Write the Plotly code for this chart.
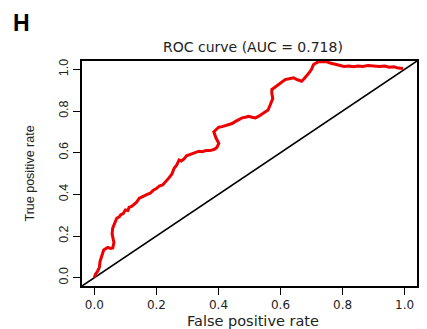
import plotly.graph_objects as go

# ROC curve points (false positive rate, true positive rate)
fpr = [0.000, 0.003, 0.010, 0.016, 0.018, 0.025, 0.030, 0.037, 0.043, 0.052, 0.059, 0.063,
       0.057, 0.059, 0.066, 0.072, 0.080, 0.085, 0.093, 0.100, 0.108, 0.112, 0.120, 0.128,
       0.136, 0.144, 0.150, 0.160, 0.170, 0.180, 0.190, 0.200, 0.209, 0.220, 0.230, 0.241,
       0.250, 0.257, 0.265, 0.273, 0.280, 0.289, 0.297, 0.305, 0.315, 0.326, 0.337, 0.347,
       0.360, 0.372, 0.385, 0.395, 0.401, 0.392, 0.385, 0.392, 0.401, 0.412, 0.423, 0.433,
       0.444, 0.455, 0.465, 0.476, 0.487, 0.497, 0.508, 0.519, 0.530, 0.540, 0.551, 0.560,
       0.567, 0.575, 0.572, 0.572, 0.583, 0.594, 0.605, 0.615, 0.628, 0.642, 0.655, 0.668,
       0.676, 0.684, 0.693, 0.700, 0.706, 0.714, 0.722, 0.735, 0.749, 0.760, 0.775, 0.790,
       0.805, 0.820, 0.835, 0.850, 0.865, 0.882, 0.900, 0.918, 0.936, 0.950, 0.965, 0.980,
       0.995]
tpr = [0.000, 0.016, 0.030, 0.050, 0.077, 0.105, 0.133, 0.140, 0.145, 0.140, 0.142, 0.168,
       0.210, 0.238, 0.262, 0.285, 0.292, 0.302, 0.308, 0.325, 0.322, 0.338, 0.342, 0.352,
       0.362, 0.380, 0.385, 0.390, 0.400, 0.405, 0.420, 0.428, 0.440, 0.445, 0.460, 0.480,
       0.498, 0.525, 0.540, 0.565, 0.560, 0.570, 0.585, 0.590, 0.595, 0.600, 0.607, 0.605,
       0.610, 0.610, 0.615, 0.625, 0.645, 0.670, 0.700, 0.710, 0.722, 0.725, 0.730, 0.735,
       0.740, 0.750, 0.758, 0.767, 0.770, 0.775, 0.770, 0.767, 0.775, 0.785, 0.792, 0.805,
       0.830, 0.860, 0.885, 0.903, 0.915, 0.927, 0.940, 0.951, 0.955, 0.959, 0.950, 0.943,
       0.955, 0.967, 0.985, 1.000, 1.022, 1.030, 1.036, 1.038, 1.036, 1.030, 1.024, 1.018,
       1.014, 1.016, 1.012, 1.016, 1.014, 1.018, 1.016, 1.014, 1.016, 1.010, 1.012, 1.006,
       1.004]

diag = [-0.04, 1.04]
tick_vals = [0.0, 0.2, 0.4, 0.6, 0.8, 1.0]
tick_text = ["0.0", "0.2", "0.4", "0.6", "0.8", "1.0"]

title_text = "ROC curve (AUC = 0.718)"
x_label = "False positive rate"
y_label = "True positive rate"
panel_label = "H"

fig = go.Figure()
fig.add_trace(go.Scatter(x=diag, y=diag, mode="lines",
                         line=dict(color="black", width=1.6), hoverinfo="skip"))
fig.add_trace(go.Scatter(x=fpr, y=tpr, mode="lines",
                         line=dict(color="#EE0000", width=3), hoverinfo="skip"))

narrow = "Liberation Sans, Arial, sans-serif"
wide = "DejaVu Sans, Verdana, sans-serif"
axis_common = dict(
    showgrid=False, zeroline=False, showline=True, mirror=True,
    linecolor="black", linewidth=1.5,
    ticks="outside", ticklen=7, tickwidth=1.2, tickcolor="black",
    tickvals=tick_vals, ticktext=tick_text,
)

fig.update_layout(
    width=427, height=329,
    margin=dict(l=82, r=8, t=61, b=43),
    paper_bgcolor="white", plot_bgcolor="white",
    showlegend=False,
    xaxis=dict(range=[-0.04, 1.04],
               tickfont=dict(family=wide, size=12, color="#222222"), **axis_common),
    yaxis=dict(range=[-0.04, 1.04], tickangle=-90,
               tickfont=dict(family=narrow, size=12.5, color="#222222"), **axis_common),
    annotations=[
        dict(text=title_text, xref="paper", yref="paper", x=0.5, y=1.0, yshift=14, xshift=3,
             xanchor="center", yanchor="middle", showarrow=False,
             font=dict(family=wide, size=14, color="#222222")),
        dict(text=x_label, xref="paper", yref="paper", x=0.5, y=0.0, yshift=-35, xshift=3,
             xanchor="center", yanchor="middle", showarrow=False,
             font=dict(family=wide, size=14.5, color="#222222")),
        dict(text=y_label, xref="paper", yref="paper", x=0.0, y=0.5, xshift=-53,
             xanchor="center", yanchor="middle", textangle=-90, showarrow=False,
             font=dict(family=narrow, size=12.5, color="#222222")),
        dict(text="<b>" + panel_label + "</b>", xref="paper", yref="paper",
             x=0.0, y=1.0, xshift=-61, yshift=38,
             xanchor="center", yanchor="middle", showarrow=False,
             font=dict(family=narrow, size=23, color="black")),
    ],
)

fig.write_html("out.html")
